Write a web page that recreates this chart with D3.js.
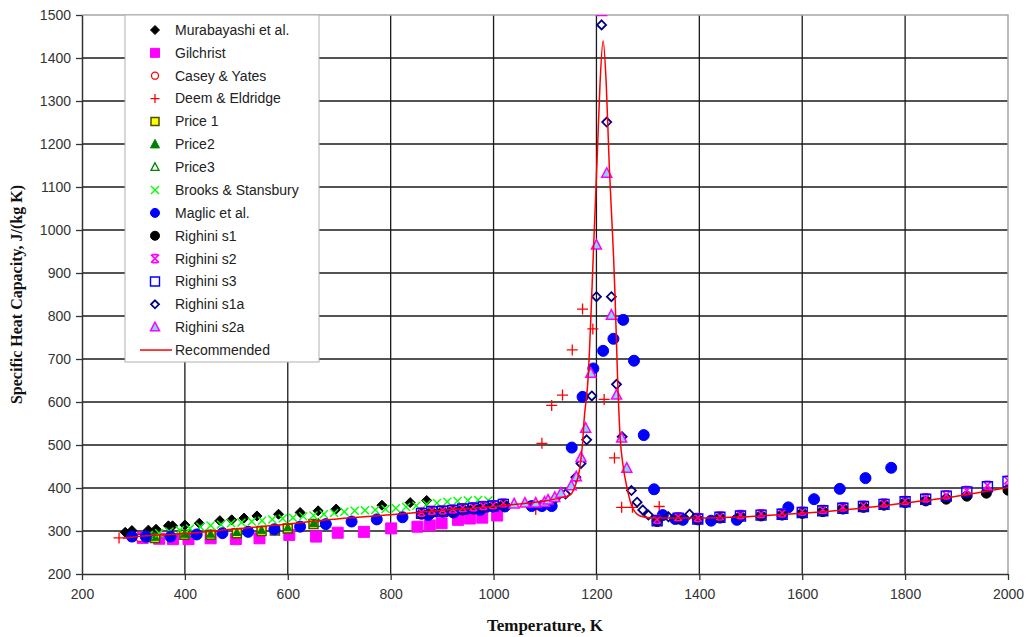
<!DOCTYPE html>
<html lang="en">
<head>
    <meta charset="UTF-8">
    <title>Specific Heat Capacity vs Temperature</title>
    <script src="https://d3js.org/d3.v7.min.js"></script>
    <style>
        body { margin: 0; background: #fff; }
        .tick text { font-family: "Liberation Sans", Arial, sans-serif; font-size: 14px; fill: #333; }
        .legend text { font-family: "Liberation Sans", Arial, sans-serif; font-size: 14px; fill: #222; }
        .title { font-family: "Liberation Serif", "Times New Roman", serif; font-weight: bold; font-size: 16px; fill: #111; }
    </style>
</head>
<body>
    <div id="chart"></div>
    <script>
        const xTicks = [200, 400, 600, 800, 1000, 1200, 1400, 1600, 1800, 2000];
        const yTicks = [200, 300, 400, 500, 600, 700, 800, 900, 1000, 1100, 1200, 1300, 1400, 1500];

        // [temperature K, cp J/(kg K)]
        const murabayashi = [[284,297],[297,301],[329,302],[344,304],[368,312],[376,312],[400,314],[428,318],[468,324],[491,326],[515,330],[540,335],[582,339],[624,343],[659,347],[694,351],[783,360],[838,366],[870,371]];
        const gilchrist = [[318,284],[350,282],[377,281],[407,281],[450,283],[499,281],[545,283],[603,291],[655,287],[697,296],[748,298],[801,306],[852,310],[876,313],[899,318],[931,326],[954,329],[978,331],[1007,336]];
        const caseyYates = [[300,285],[312,284],[325,286],[338,287]];
        const deemEldridge = [[272,284],[1082,350],[1094,504],[1113,592],[1134,616],[1153,721],[1173,816],[1193,770],[1215,606],[1235,470],[1249,355],[1270,355],[1322,357]];
        const price1 = [[330,286],[342,284],[399,291],[450,291],[501,295],[549,300],[575,301],[600,306],[650,316]];
        const price2 = [[330,288],[342,286],[399,293],[450,293],[501,297],[549,302],[575,303],[600,308],[650,318]];
        const price3 = [[335,287],[410,294],[520,300],[660,318]];
        const brooks = [[330,291],[350,295],[370,299],[390,302],[410,306],[430,310],[450,313],[470,315],[490,318],[510,320],[530,322],[550,324],[570,327],[590,329],[610,331],[630,334],[650,336],[670,339],[690,342],[710,345],[730,347],[750,348],[770,349],[790,351],[810,353],[830,356],[850,359],[870,362],[890,365],[910,368],[930,370],[950,371],[970,372],[990,371]];
        const maglic = [[297,287],[324,287],[372,287],[423,292],[473,295],[523,298],[574,304],[624,310],[674,316],[724,322],[773,327],[823,332],[873,337],[922,343],[974,349],[1022,357],[1074,358],[1094,358],[1113,358],[1152,494],[1173,612],[1194,678],[1213,719],[1233,747],[1252,791],[1273,696],[1292,523],[1312,397],[1329,337],[1353,328],[1368,326],[1423,324],[1473,326],[1573,355],[1623,374],[1673,398],[1723,423],[1773,447]];
        const righiniS1 = [[860,339],[880,343],[901,344],[921,346],[940,349],[961,351],[980,354],[999,356],[1019,360],[1318,322],[1359,328],[1397,326],[1440,330],[1480,333],[1520,335],[1561,337],[1600,341],[1640,345],[1679,351],[1719,355],[1759,360],[1800,366],[1840,370],[1880,374],[1920,381],[1958,388],[2000,395]];
        const righiniS2 = [[860,344],[880,348],[901,349],[921,351],[940,354],[961,356],[980,359],[999,361],[1019,365],[1318,327],[1359,333],[1397,331],[1440,335],[1480,338],[1520,340],[1561,342],[1600,346],[1640,350],[1679,356],[1719,360],[1759,365],[1800,371],[1840,377],[1880,384],[1920,394],[1960,406],[2000,418]];
        const righiniS3 = [[860,341],[880,345],[901,346],[921,348],[940,351],[961,353],[980,356],[999,358],[1019,362],[1318,324],[1359,330],[1397,328],[1440,332],[1480,335],[1520,337],[1561,339],[1600,343],[1640,347],[1679,353],[1719,357],[1759,362],[1800,368],[1840,374],[1880,381],[1920,391],[1960,403],[2000,415]];
        const righiniS1a = [[1120,375],[1140,386],[1160,425],[1170,457],[1181,512],[1191,614],[1200,845],[1210,1477],[1220,1251],[1229,845],[1239,641],[1250,519],[1268,394],[1279,367],[1290,349],[1301,337],[1340,333],[1381,339]];
        const righiniS2a = [[1040,363],[1061,365],[1082,365],[1099,367],[1106,372],[1119,378],[1131,388],[1151,405],[1161,426],[1170,471],[1179,539],[1189,667],[1200,965],[1210,1508],[1220,1132],[1229,802],[1239,616],[1249,516],[1259,446]];
        const recommended = [[280,283],[300,286],[400,294],[500,305],[600,316],[676,326],[800,338],[900,348],[1000,357],[1050,363],[1100,370],[1130,377],[1149,384],[1158,403],[1167,442],[1173,504],[1176,558],[1184,659],[1191,853],[1194,946],[1202,1186],[1207,1341],[1213,1440],[1219,1341],[1225,1147],[1233,946],[1236,853],[1241,659],[1246,519],[1252,450],[1259,403],[1269,357],[1285,335],[1311,330],[1400,330],[1500,334],[1600,341],[1700,351],[1800,365],[1900,381],[2000,401]];

        const series = [
            { name: "Murabayashi et al.", data: murabayashi, shape: "diamond", fill: "#000", stroke: "#000", r: 5, lr: 4.5 },
            { name: "Gilchrist", data: gilchrist, shape: "square", fill: "#ff00ff", stroke: "#ff00ff", r: 5.5, lr: 4.5 },
            { name: "Casey & Yates", data: caseyYates, shape: "circle", fill: "#fff", stroke: "#ff0000", r: 3.5, lr: 3.5, sw: 1.3 },
            { name: "Deem & Eldridge", data: deemEldridge, shape: "plus", fill: "none", stroke: "#ff0000", r: 5.5, lr: 4.5, sw: 1.3 },
            { name: "Price 1", data: price1, shape: "square", fill: "#ffff00", stroke: "#4d4d00", r: 4.5, lr: 4, sw: 1.5 },
            { name: "Price2", data: price2, shape: "triangle", fill: "#008000", stroke: "#008000", r: 4, lr: 4.5 },
            { name: "Price3", data: price3, shape: "triangle", fill: "none", stroke: "#008000", r: 4, lr: 4, sw: 1.3 },
            { name: "Brooks & Stansbury", data: brooks, shape: "x", fill: "none", stroke: "#00ff00", r: 4, lr: 4, sw: 1.4 },
            { name: "Maglic et al.", data: maglic, shape: "circle", fill: "#0000ff", stroke: "#0000ff", r: 5.5, lr: 4.5 },
            { name: "Righini s1", data: righiniS1, shape: "circle", fill: "#000", stroke: "#000", r: 5, lr: 4.5 },
            { name: "Righini s2", data: righiniS2, shape: "star", fill: "none", stroke: "#ff00ff", r: 4, lr: 4, sw: 1.6 },
            { name: "Righini s3", data: righiniS3, shape: "square", fill: "none", stroke: "#0000ff", r: 5, lr: 4.5, sw: 1.4 },
            { name: "Righini s1a", data: righiniS1a, shape: "diamond", fill: "none", stroke: "#000080", r: 4.5, lr: 4, sw: 1.8 },
            { name: "Righini s2a", data: righiniS2a, shape: "triangle", fill: "#80d8ff", stroke: "#ff00ff", r: 5, lr: 4.5, sw: 1.5 }
        ];

        const width = 1029, height = 637;
        const margin = { left: 82, right: 21, top: 15, bottom: 63 };

        const x = d3.scaleLinear().domain([200, 2000]).range([margin.left, width - margin.right]);
        const y = d3.scaleLinear().domain([200, 1500]).range([height - margin.bottom, margin.top]);

        const svg = d3.select("#chart").append("svg")
            .attr("width", width)
            .attr("height", height);

        function markerPath(shape, r) {
            switch (shape) {
                case "diamond": return `M0,${-r}L${r},0L0,${r}L${-r},0Z`;
                case "square": return `M${-r},${-r}H${r}V${r}H${-r}Z`;
                case "circle": return d3.symbol(d3.symbolCircle, Math.PI * r * r)();
                case "triangle": return `M0,${-r * 1.1}L${r},${r * 0.8}L${-r},${r * 0.8}Z`;
                case "plus": return `M${-r},0H${r}M0,${-r}V${r}`;
                case "x": return `M${-r},${-r}L${r},${r}M${r},${-r}L${-r},${r}`;
                case "star": return `M${-r},${-r}L${r},${r}M${r},${-r}L${-r},${r}M${-r * 0.7},${-r}H${r * 0.7}M${-r * 0.7},${r}H${r * 0.7}`;
            }
        }

        // gridlines
        svg.append("g").selectAll("line.h")
            .data(yTicks.slice(1, -1))
            .join("line")
            .attr("x1", x(200)).attr("x2", x(2000))
            .attr("y1", d => y(d)).attr("y2", d => y(d))
            .attr("stroke", "#1a1a1a").attr("stroke-width", 1.3);
        svg.append("g").selectAll("line.v")
            .data(xTicks.slice(1, -1))
            .join("line")
            .attr("y1", y(200)).attr("y2", y(1500))
            .attr("x1", d => x(d)).attr("x2", d => x(d))
            .attr("stroke", "#1a1a1a").attr("stroke-width", 1.3);

        // plot border top/right
        svg.append("path")
            .attr("d", `M${x(200)},${y(1500)}H${x(2000)}V${y(200)}`)
            .attr("fill", "none").attr("stroke", "#a6a6a6").attr("stroke-width", 1.5);

        // axes
        const fmt = d3.format("d");
        const xAxis = svg.append("g")
            .attr("transform", `translate(0,${y(200)})`)
            .call(d3.axisBottom(x).tickValues(xTicks).tickFormat(fmt).tickSize(6).tickPadding(9).tickSizeOuter(0));
        const yAxis = svg.append("g")
            .attr("transform", `translate(${x(200)},0)`)
            .call(d3.axisLeft(y).tickValues(yTicks).tickFormat(fmt).tickSize(6).tickPadding(5).tickSizeOuter(0));
        [xAxis, yAxis].forEach(a => {
            a.select(".domain").attr("stroke", "#333").attr("stroke-width", 1.5);
            a.selectAll(".tick line").attr("stroke", "#333").attr("stroke-width", 1.3);
        });

        svg.append("clipPath").attr("id", "plot-clip")
            .append("rect")
            .attr("x", x(200)).attr("y", y(1500))
            .attr("width", x(2000) - x(200)).attr("height", y(200) - y(1500));

        const plot = svg.append("g").attr("clip-path", "url(#plot-clip)");

        const line = d3.line()
            .x(d => x(d[0]))
            .y(d => y(d[1]))
            .curve(d3.curveMonotoneX);

        series.forEach(s => {
            plot.append("g").selectAll("path")
                .data(s.data)
                .join("path")
                .attr("transform", d => `translate(${x(d[0])},${y(d[1])})`)
                .attr("d", markerPath(s.shape, s.r))
                .attr("fill", s.fill)
                .attr("stroke", s.stroke)
                .attr("stroke-width", s.sw || 1);
        });

        plot.append("path")
            .datum(recommended)
            .attr("d", line)
            .attr("fill", "none")
            .attr("stroke", "#ff0000")
            .attr("stroke-width", 1.5);

        // legend
        const lg = svg.append("g").attr("class", "legend");
        const lgX = 125, lgY = 15, lgW = 194, lgH = 347, rowH = 22.86;
        lg.append("rect")
            .attr("x", lgX).attr("y", lgY).attr("width", lgW).attr("height", lgH)
            .attr("fill", "#fff").attr("stroke", "#b0b0b0").attr("stroke-width", 1);

        series.forEach((s, i) => {
            const cy = lgY + 15 + i * rowH;
            lg.append("path")
                .attr("transform", `translate(155,${cy})`)
                .attr("d", markerPath(s.shape, s.lr))
                .attr("fill", s.fill)
                .attr("stroke", s.stroke)
                .attr("stroke-width", s.sw || 1);
            lg.append("text")
                .attr("x", 175).attr("y", cy).attr("dy", "0.35em")
                .text(s.name);
        });
        const recY = lgY + 15 + series.length * rowH;
        lg.append("line")
            .attr("x1", 140).attr("x2", 172).attr("y1", recY).attr("y2", recY)
            .attr("stroke", "#ff0000").attr("stroke-width", 1.5);
        lg.append("text")
            .attr("x", 175).attr("y", recY).attr("dy", "0.35em")
            .text("Recommended");

        // axis titles
        svg.append("text")
            .attr("class", "title")
            .attr("x", (x(200) + x(2000)) / 2)
            .attr("y", 631)
            .attr("text-anchor", "middle")
            .style("font-size", "17px")
            .text("Temperature, K");

        svg.append("text")
            .attr("class", "title")
            .attr("transform", `translate(22,${(y(200) + y(1500)) / 2}) rotate(-90)`)
            .attr("text-anchor", "middle")
            .style("font-size", "16px")
            .text("Specific Heat Capacity, J/(kg K)");
    </script>
</body>
</html>
